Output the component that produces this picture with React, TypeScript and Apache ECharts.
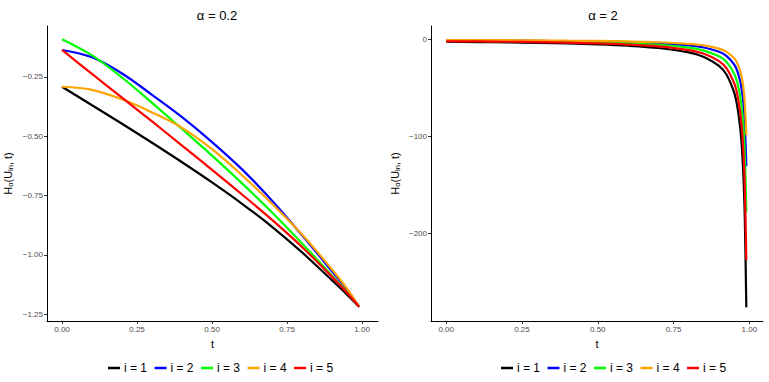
import React, { useEffect, useRef } from "react";
import * as echarts from "echarts";

const seriesNames = ["i = 1", "i = 2", "i = 3", "i = 4", "i = 5"];
const seriesColors = ["#000000", "#0000FF", "#00FF00", "#FFA500", "#FF0000"];

// alpha = 0.2 panel
const tLeft = [0, 0.1, 0.2, 0.3, 0.4, 0.5, 0.6, 0.7, 0.8, 0.9, 0.95, 0.99];
const left_i1 = [-0.292, -0.37, -0.448, -0.528, -0.61, -0.695, -0.785, -0.882, -0.99, -1.108, -1.168, -1.219];
const left_i2 = [-0.137, -0.168, -0.236, -0.326, -0.42, -0.525, -0.64, -0.772, -0.918, -1.07, -1.148, -1.219];
const left_i3 = [-0.092, -0.16, -0.253, -0.36, -0.47, -0.582, -0.699, -0.822, -0.952, -1.088, -1.158, -1.219];
const left_i4 = [-0.292, -0.305, -0.345, -0.4, -0.465, -0.555, -0.665, -0.785, -0.915, -1.062, -1.143, -1.219];
const left_i5 = [-0.137, -0.238, -0.338, -0.438, -0.54, -0.642, -0.746, -0.853, -0.967, -1.093, -1.16, -1.219];

// alpha = 2 panel
const tRight = [0, 0.1, 0.2, 0.3, 0.4, 0.5, 0.6, 0.7, 0.8, 0.85, 0.9, 0.925, 0.95, 0.96, 0.97, 0.975, 0.98, 0.985, 0.99];
const right_i1 = [-2.8, -3.1, -3.5, -3.9, -4.6, -5.5, -6.9, -9.2, -13.8, -18.4, -27.6, -36.8, -55.2, -69, -92, -110.4, -138, -184, -276];
const right_i2 = [-1.3, -1.5, -1.6, -1.9, -2.2, -2.6, -3.3, -4.4, -6.6, -8.7, -13.1, -17.5, -26.2, -32.8, -43.7, -52.4, -65.5, -87.3, -131];
const right_i3 = [-1.8, -2.0, -2.2, -2.5, -3.0, -3.6, -4.5, -5.9, -8.9, -11.9, -17.8, -23.7, -35.6, -44.5, -59.3, -71.2, -89, -118.7, -178];
const right_i4 = [-1.0, -1.1, -1.2, -1.4, -1.7, -2.0, -2.5, -3.3, -5.0, -6.6, -9.9, -13.2, -19.8, -24.8, -33, -39.6, -49.5, -66, -99];
const right_i5 = [-2.3, -2.5, -2.8, -3.2, -3.8, -4.5, -5.7, -7.6, -11.4, -15.1, -22.7, -30.3, -45.4, -56.8, -75.7, -90.8, -113.5, -151.3, -227];

const xTicks = [0, 0.25, 0.5, 0.75, 1];
const leftYTicks = [-1.25, -1, -0.75, -0.5, -0.25];
const rightYTicks = [-200, -100, 0];

const leftData = [left_i1, left_i2, left_i3, left_i4, left_i5];
const rightData = [right_i1, right_i2, right_i3, right_i4, right_i5];

const FONT = "'Liberation Sans', Arial, sans-serif";
const minus = (s: string) => s.replace("-", "\u2212");

function xAxisDef(gridIndex: number, max: number) {
  return {
    type: "value",
    gridIndex,
    min: -0.05,
    max,
    name: "t",
    nameLocation: "middle",
    nameGap: 17,
    nameTextStyle: { fontFamily: FONT, fontSize: 11, color: "#000" },
    axisLine: { show: true, onZero: false, lineStyle: { color: "#000", width: 1 } },
    axisTick: { show: true, length: 3, customValues: xTicks, lineStyle: { color: "#333" } },
    axisLabel: {
      customValues: xTicks,
      formatter: (v: number) => v.toFixed(2),
      fontFamily: FONT,
      fontSize: 8,
      color: "#4D4D4D",
      margin: 4,
    },
    splitLine: { show: false },
  };
}

function yAxisDef(gridIndex: number, min: number, max: number, ticks: number[], fmt: (v: number) => string, gap: number) {
  return {
    type: "value",
    gridIndex,
    min,
    max,
    name: "{a|H}{s|α}{a|(U}{s|in}{a|, t)}",
    nameLocation: "middle",
    nameGap: gap,
    nameTextStyle: {
      fontFamily: FONT,
      fontSize: 11,
      color: "#000",
      rich: {
        a: { fontFamily: FONT, fontSize: 11, color: "#000" },
        s: { fontFamily: FONT, fontSize: 7.5, color: "#000", padding: [5, 0, 0, 0] },
      },
    },
    axisLine: { show: true, onZero: false, lineStyle: { color: "#000", width: 1 } },
    axisTick: { show: true, length: 3, customValues: ticks, lineStyle: { color: "#333" } },
    axisLabel: {
      customValues: ticks,
      formatter: fmt,
      fontFamily: FONT,
      fontSize: 8,
      color: "#4D4D4D",
      margin: 4,
    },
    splitLine: { show: false },
  };
}

export default function App() {
  const ref = useRef<HTMLDivElement>(null);
  useEffect(() => {
    if (!ref.current) return;
    const chart = echarts.init(ref.current, null, { renderer: "svg" });
    const series: any[] = [];
    seriesNames.forEach((name, k) => {
      series.push({
        type: "line",
        name,
        xAxisIndex: 0,
        yAxisIndex: 0,
        data: tLeft.map((t, j) => [t, leftData[k][j]]),
        smooth: 0.35,
        showSymbol: false,
        symbol: "none",
        lineStyle: { color: seriesColors[k], width: 2.2 },
        itemStyle: { color: seriesColors[k] },
        z: 2 + k,
      });
    });
    seriesNames.forEach((name, k) => {
      series.push({
        type: "line",
        name,
        xAxisIndex: 1,
        yAxisIndex: 1,
        data: tRight.map((t, j) => [t, rightData[k][j]]),
        smooth: 0.3,
        showSymbol: false,
        symbol: "none",
        lineStyle: { color: seriesColors[k], width: 2.2 },
        itemStyle: { color: seriesColors[k] },
        z: 2 + k,
      });
    });
    const legendBase = {
      orient: "horizontal",
      top: 362,
      padding: 0,
      icon: "rect",
      itemWidth: 12,
      itemHeight: 2.5,
      itemGap: 7.5,
      textStyle: { fontFamily: FONT, fontSize: 12, color: "#000", padding: [0, 0, 0, -1] },
      data: seriesNames,
      selectedMode: false,
    };
    chart.setOption({
      animation: false,
      backgroundColor: "#fff",
      title: [
        { text: "α = 0.2", left: 212, top: 4, textAlign: "center", textStyle: { fontFamily: FONT, fontSize: 13, fontWeight: "normal", color: "#000" } },
        { text: "α = 2", left: 598, top: 4, textAlign: "center", textStyle: { fontFamily: FONT, fontSize: 13, fontWeight: "normal", color: "#000" } },
      ],
      legend: [
        { ...legendBase, left: 108 },
        { ...legendBase, left: 501 },
      ],
      grid: [
        { left: 47, top: 26, width: 331, height: 295 },
        { left: 431, top: 26, width: 332, height: 295 },
      ],
      xAxis: [xAxisDef(0, 1.053), xAxisDef(1, 1.045)],
      yAxis: [
        yAxisDef(0, -1.279, -0.036, leftYTicks, (v: number) => minus(v.toFixed(2)), 33),
        yAxisDef(1, -290, 13.4, rightYTicks, (v: number) => (v === 0 ? "0" : minus(String(v))), 30),
      ],
      series,
    });
    return () => chart.dispose();
  }, []);
  return <div ref={ref} style={{ position: "fixed", left: 0, top: 0, width: 769, height: 382 }} />;
}
